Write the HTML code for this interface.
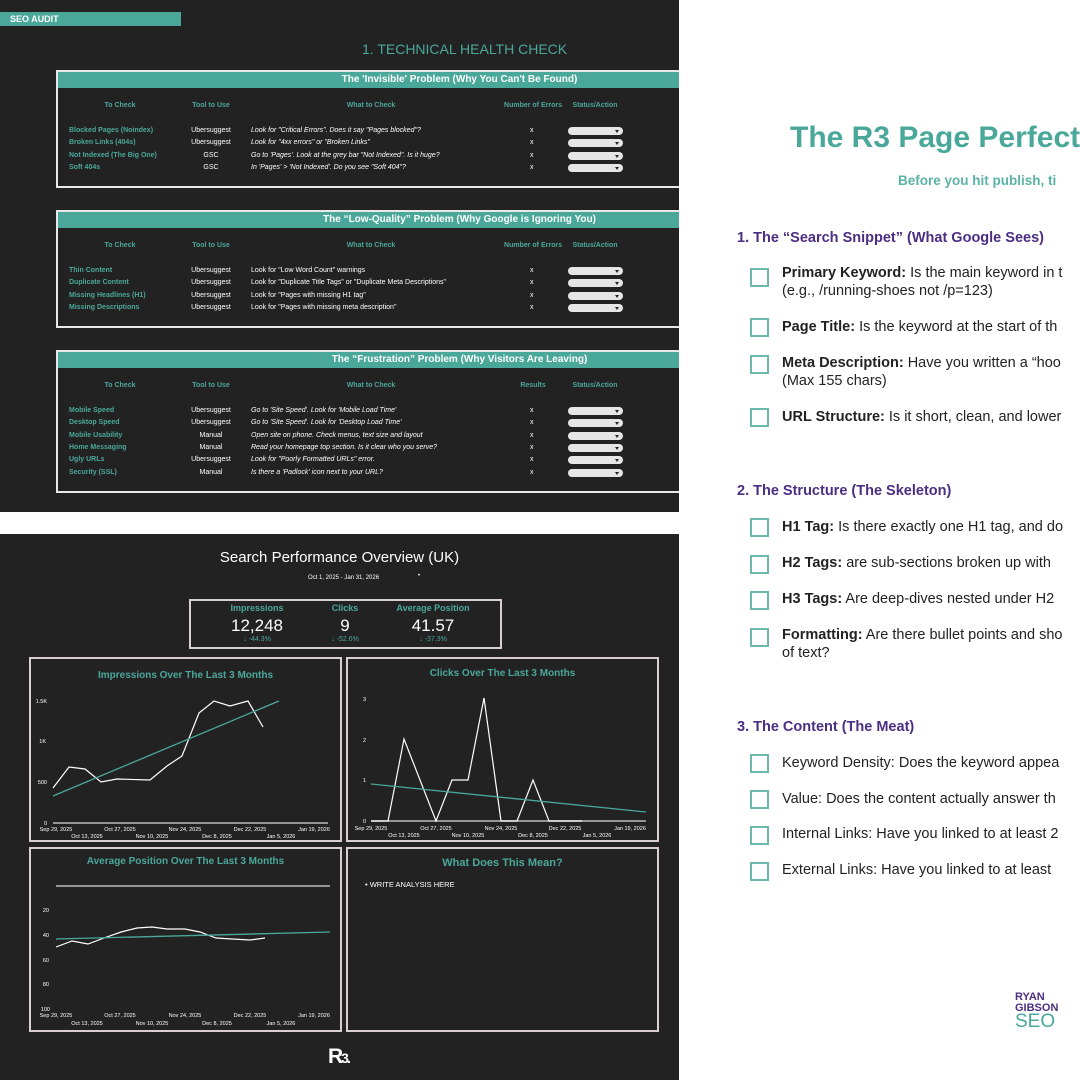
<!DOCTYPE html>
<html><head><meta charset="utf-8"><style>
*{margin:0;padding:0;box-sizing:border-box}
body{width:1080px;height:1080px;background:#fff;position:relative;overflow:hidden;font-family:"Liberation Sans",sans-serif}
.a{position:absolute;white-space:nowrap}
.dk{position:absolute;background:#232222}
.tb{position:absolute;left:56px;width:623px;border:2px solid #e8e8e8;border-right:none}
.tb .hd{position:absolute;left:0;right:0;top:0;height:16px;background:#4aa89a;color:#fff;font-weight:bold;font-size:10px;line-height:16px;text-align:center;padding-left:182px}
.ch{color:#4aa89a;font-size:7px;font-weight:bold}
.r{font-size:7px;color:#fff}
.rk{font-size:7px;color:#4aa89a;font-weight:bold}
.it{font-style:italic}
.dd{position:absolute;width:55px;height:8px;border-radius:4px;background:#e6e6e6}
.dd:after{content:"";position:absolute;right:4px;top:3px;border:2.5px solid transparent;border-top:3px solid #222}
.bx{position:absolute;border:2px solid #d9cfd3}
.ct{color:#4aa89a;font-weight:bold;font-size:10px}
.chk{position:absolute;left:750px;width:19px;height:19px;border:2px solid #6bb8ad}
.ti{position:absolute;left:782px;font-size:14.5px;color:#222;line-height:18px;white-space:nowrap}
.sh{position:absolute;left:737px;font-size:14.5px;font-weight:bold;color:#4b2e83}
</style></head><body>
<div class="dk" style="left:0;top:0;width:679px;height:512px"></div>
<div class="a" style="left:0;top:12px;width:181px;height:14px;background:#4aa89a;color:#fff;font-weight:bold;font-size:9px;line-height:14px;padding-left:10px">SEO AUDIT</div>
<div class="a" style="left:362px;top:41px;color:#4aa89a;font-size:14px">1. TECHNICAL HEALTH CHECK</div>

<div class="tb" style="top:70px;height:118px"><div class="hd">The 'Invisible' Problem (Why You Can't Be Found)</div></div>
<div class="tb" style="top:210px;height:118px"><div class="hd">The “Low-Quality” Problem (Why Google is Ignoring You)</div></div>
<div class="tb" style="top:350px;height:143px"><div class="hd">The “Frustration” Problem (Why Visitors Are Leaving)</div></div>

<div id="tables"></div>

<div class="dk" style="left:0;top:534px;width:679px;height:546px"></div>
<div class="a" style="left:0;width:679px;top:549px;text-align:center;color:#fff;font-size:15px">Search Performance Overview (UK)</div>
<div class="a" style="left:308px;top:575px;color:#fff;font-size:6px">Oct 1, 2025 - Jan 31, 2026</div>
<div class="a" style="left:418px;top:573px;color:#fff;font-size:6px">•</div>
<div class="bx" style="left:189px;top:599px;width:313px;height:50px"></div>
<div class="a ct" style="left:197px;width:120px;top:603px;text-align:center;font-size:9px">Impressions</div>
<div class="a ct" style="left:305px;width:80px;top:603px;text-align:center;font-size:9px">Clicks</div>
<div class="a ct" style="left:373px;width:120px;top:603px;text-align:center;font-size:9px">Average Position</div>
<div class="a" style="left:197px;width:120px;top:616px;text-align:center;color:#fff;font-size:17px">12,248</div>
<div class="a" style="left:305px;width:80px;top:616px;text-align:center;color:#fff;font-size:17px">9</div>
<div class="a" style="left:373px;width:120px;top:616px;text-align:center;color:#fff;font-size:17px">41.57</div>
<div class="a" style="left:197px;width:120px;top:636px;text-align:center;color:#4aa89a;font-size:7px">↓ -44.3%</div>
<div class="a" style="left:305px;width:80px;top:636px;text-align:center;color:#4aa89a;font-size:7px">↓ -52.6%</div>
<div class="a" style="left:373px;width:120px;top:636px;text-align:center;color:#4aa89a;font-size:7px">↓ -37.3%</div>

<div class="bx" style="left:29px;top:657px;width:313px;height:185px"></div>
<div class="bx" style="left:346px;top:657px;width:313px;height:185px"></div>
<div class="bx" style="left:29px;top:847px;width:313px;height:185px"></div>
<div class="bx" style="left:346px;top:847px;width:313px;height:185px"></div>
<div class="a ct" style="left:29px;width:313px;top:670px;text-align:center">Impressions Over The Last 3 Months</div>
<div class="a ct" style="left:346px;width:313px;top:668px;text-align:center">Clicks Over The Last 3 Months</div>
<div class="a ct" style="left:29px;width:313px;top:856px;text-align:center">Average Position Over The Last 3 Months</div>
<div class="a ct" style="left:346px;width:313px;top:857px;text-align:center;font-size:11px">What Does This Mean?</div>
<div class="a" style="left:365px;top:880px;color:#fff;font-size:7.5px">• WRITE ANALYSIS HERE</div>
<div class="a" style="left:328px;top:1045px;color:#fff;font-size:21px;font-weight:bold;letter-spacing:-2px">R<span style="font-size:14px">3.</span></div>

<svg class="a" style="left:0;top:0" width="680" height="1080" font-family="Liberation Sans" font-size="5.5" fill="#fff">
<g stroke="#bbb" stroke-width="1.5"><line x1="53" y1="823" x2="328" y2="823"/><line x1="371" y1="821" x2="646" y2="821"/><line x1="56" y1="886" x2="330" y2="886"/></g>
<polyline fill="none" stroke="#fff" stroke-width="1.2" points="53,788 69,767 85,769 101,782 117,779 150,780 167,766 182,756 199,713 214,701 230,706 248,701 263,727"/>
<line x1="53" y1="796" x2="279" y2="701" stroke="#4aa89a" stroke-width="1.3"/>
<polyline fill="none" stroke="#fff" stroke-width="1.2" points="371,821 388,821 404,739 436,821 452,780 468,780 484,698 501,821 517,821 533,780 549,821 582,821"/>
<line x1="371" y1="784" x2="646" y2="812" stroke="#4aa89a" stroke-width="1.3"/>
<polyline fill="none" stroke="#fff" stroke-width="1.2" points="56,947 72,941 88,944 104,938 121,932 137,928 152,927 167,929 185,929 200,932 216,938 232,939 250,940 265,938"/>
<line x1="56" y1="939" x2="330" y2="932" stroke="#4aa89a" stroke-width="1.3"/>
<g text-anchor="end"><text x="47" y="703">1.5K</text><text x="46" y="743">1K</text><text x="47" y="784">500</text><text x="47" y="825">0</text>
<text x="366" y="701">3</text><text x="366" y="742">2</text><text x="366" y="782">1</text><text x="366" y="823">0</text>
<text x="49" y="912">20</text><text x="49" y="937">40</text><text x="49" y="962">60</text><text x="49" y="986">80</text><text x="50" y="1011">100</text></g>
<g text-anchor="middle">
<text x="56" y="831">Sep 29, 2025</text><text x="120" y="831">Oct 27, 2025</text><text x="185" y="831">Nov 24, 2025</text><text x="250" y="831">Dec 22, 2025</text><text x="314" y="831">Jan 19, 2026</text>
<text x="87" y="838">Oct 13, 2025</text><text x="152" y="838">Nov 10, 2025</text><text x="217" y="838">Dec 8, 2025</text><text x="281" y="838">Jan 5, 2026</text>
<text x="371" y="830">Sep 29, 2025</text><text x="436" y="830">Oct 27, 2025</text><text x="501" y="830">Nov 24, 2025</text><text x="565" y="830">Dec 22, 2025</text><text x="630" y="830">Jan 19, 2026</text>
<text x="404" y="837">Oct 13, 2025</text><text x="468" y="837">Nov 10, 2025</text><text x="533" y="837">Dec 8, 2025</text><text x="597" y="837">Jan 5, 2026</text>
<text x="56" y="1017">Sep 29, 2025</text><text x="120" y="1017">Oct 27, 2025</text><text x="185" y="1017">Nov 24, 2025</text><text x="250" y="1017">Dec 22, 2025</text><text x="314" y="1017">Jan 19, 2026</text>
<text x="87" y="1025">Oct 13, 2025</text><text x="152" y="1025">Nov 10, 2025</text><text x="217" y="1025">Dec 8, 2025</text><text x="281" y="1025">Jan 5, 2026</text>
</g></svg>

<!-- Right panel -->
<div class="a" style="left:790px;top:121px;color:#4aa89a;font-size:30px;font-weight:bold">The R3 Page Perfect</div>
<div class="a" style="left:898px;top:173px;color:#5ab3a6;font-size:13.5px;font-weight:bold">Before you hit publish, ti</div>
<div class="sh" style="top:230px">1. The “Search Snippet” (What Google Sees)</div>
<div class="chk" style="top:268px"></div><div class="ti" style="top:264px"><b>Primary Keyword:</b> Is the main keyword in t<br>(e.g., /running-shoes not /p=123)</div>
<div class="chk" style="top:318px"></div><div class="ti" style="top:318px"><b>Page Title:</b> Is the keyword at the start of th</div>
<div class="chk" style="top:355px"></div><div class="ti" style="top:354px"><b>Meta Description:</b> Have you written a “hoo<br>(Max 155 chars)</div>
<div class="chk" style="top:408px"></div><div class="ti" style="top:408px"><b>URL Structure:</b> Is it short, clean, and lower</div>
<div class="sh" style="top:483px">2. The Structure (The Skeleton)</div>
<div class="chk" style="top:518px"></div><div class="ti" style="top:518px"><b>H1 Tag:</b> Is there exactly one H1 tag, and do</div>
<div class="chk" style="top:555px"></div><div class="ti" style="top:554px"><b>H2 Tags:</b> are sub-sections broken up with</div>
<div class="chk" style="top:591px"></div><div class="ti" style="top:590px"><b>H3 Tags:</b> Are deep-dives nested under H2</div>
<div class="chk" style="top:628px"></div><div class="ti" style="top:626px"><b>Formatting:</b> Are there bullet points and sho<br>of text?</div>
<div class="sh" style="top:719px">3. The Content (The Meat)</div>
<div class="chk" style="top:754px"></div><div class="ti" style="top:754px">Keyword Density: Does the keyword appea</div>
<div class="chk" style="top:790px"></div><div class="ti" style="top:790px">Value: Does the content actually answer th</div>
<div class="chk" style="top:826px"></div><div class="ti" style="top:825px">Internal Links: Have you linked to at least 2</div>
<div class="chk" style="top:862px"></div><div class="ti" style="top:861px">External Links: Have you linked to at least</div>
<div class="a" style="left:1015px;top:992px;color:#4b2e83;font-weight:bold;font-size:11px;line-height:11px">RYAN<br>GIBSON</div>
<div class="a" style="left:1015px;top:1012px;color:#4aa89a;font-size:19px;line-height:20px">SEO</div>

<script>
var T=[
{y:106,h:["To Check","Tool to Use","What to Check","Number of Errors","Status/Action"],y0:131,dy:12.3,rows:[
["Blocked Pages (Noindex)","Ubersuggest","Look for \"Critical Errors\". Does it say \"Pages blocked\"?",1],
["Broken Links (404s)","Ubersuggest","Look for \"4xx errors\" or \"Broken Links\"",1],
["Not Indexed (The Big One)","GSC","Go to 'Pages'. Look at the grey bar \"Not Indexed\". Is it huge?",1],
["Soft 404s","GSC","In 'Pages' > 'Not Indexed'. Do you see \"Soft 404\"?",1]]},
{y:246,h:["To Check","Tool to Use","What to Check","Number of Errors","Status/Action"],y0:271,dy:12.3,rows:[
["Thin Content","Ubersuggest","Look for \"Low Word Count\" warnings",0],
["Duplicate Content","Ubersuggest","Look for \"Duplicate Title Tags\" or \"Duplicate Meta Descriptions\"",0],
[" Missing Headlines (H1)","Ubersuggest","Look for \"Pages with missing H1 tag\"",0],
["Missing Descriptions","Ubersuggest","Look for \"Pages with missing meta description\"",0]]},
{y:386,h:["To Check","Tool to Use","What to Check","Results","Status/Action"],y0:411,dy:12.3,rows:[
["Mobile Speed","Ubersuggest","Go to 'Site Speed'. Look for 'Mobile Load Time'",1],
["Desktop Speed","Ubersuggest","Go to 'Site Speed'. Look for 'Desktop Load Time'",1],
["Mobile Usability","Manual","Open site on phone. Check menus, text size and layout",1],
["Home Messaging","Manual","Read your homepage top section. Is it clear who you serve?",1],
["Ugly URLs","Ubersuggest","Look for \"Poorly Formatted URLs\" error.",1],
["Security (SSL)","Manual","Is there a 'Padlock' icon next to your URL?",1]]}];
var h="";
function esc(s){return s.replace(/&/g,"&amp;").replace(/</g,"&lt;").replace(/>/g,"&gt;");}
T.forEach(function(t){
 var cx=[120,211,371,533,595];
 t.h.forEach(function(s,i){h+='<div class="a ch" style="left:'+(cx[i]-50)+'px;width:100px;text-align:center;top:'+(t.y-4)+'px">'+s+'</div>';});
 t.rows.forEach(function(r,j){var y=t.y0+j*t.dy-4;
  h+='<div class="a rk" style="left:69px;top:'+y+'px">'+esc(r[0])+'</div>';
  h+='<div class="a r" style="left:161px;width:100px;text-align:center;top:'+y+'px">'+r[1]+'</div>';
  h+='<div class="a r'+(r[3]?' it':'')+'" style="left:251px;top:'+y+'px">'+esc(r[2])+'</div>';
  h+='<div class="a r" style="left:530px;top:'+y+'px">x</div>';
  h+='<div class="dd" style="left:568px;top:'+(y)+'px"></div>';});
});
document.getElementById("tables").innerHTML=h;
</script>
</body></html>
